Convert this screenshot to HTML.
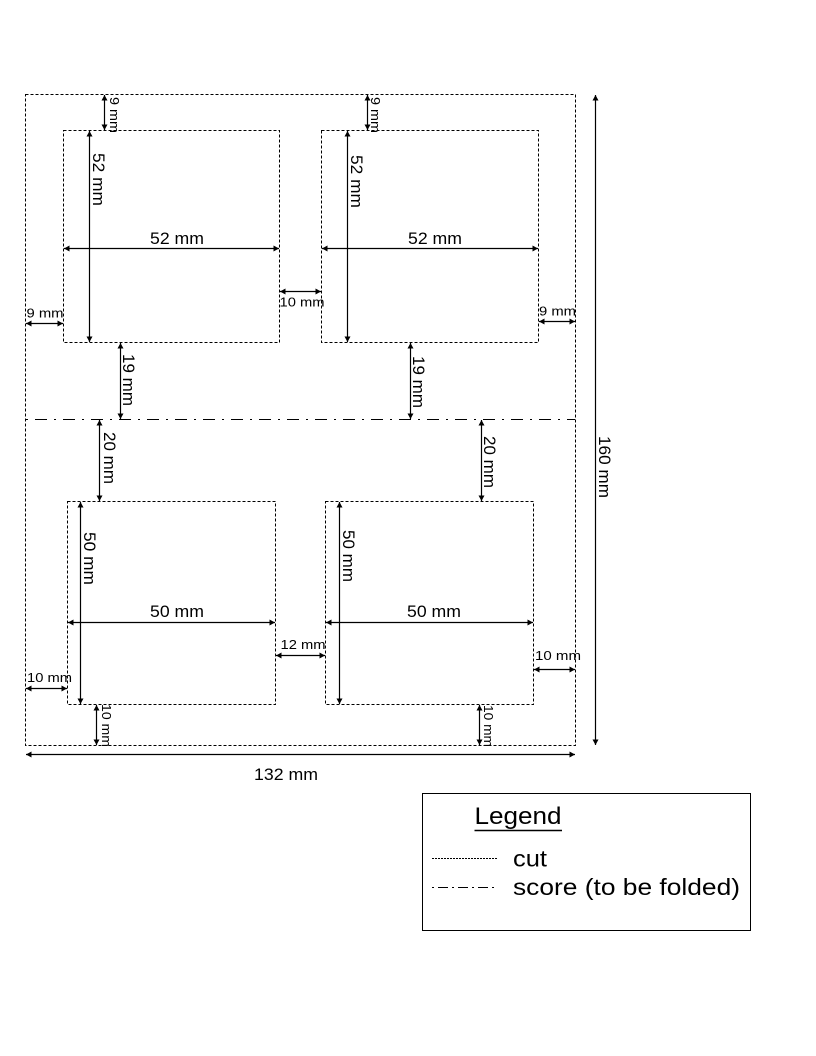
<!DOCTYPE html>
<html>
<head>
<meta charset="utf-8">
<style>
  html,body{margin:0;padding:0;background:#fff;}
  svg{display:block;}
  text{font-family:"Liberation Sans", Arial, sans-serif; fill:#000;}
</style>
</head>
<body>
<svg width="816" height="1056" viewBox="0 0 816 1056" xmlns="http://www.w3.org/2000/svg">
  <defs>
    <marker id="ah" markerWidth="8" markerHeight="8" refX="7" refY="4" orient="auto-start-reverse" markerUnits="userSpaceOnUse">
      <path d="M1.5,1 L7,4 L1.5,7 Z" fill="#000"/>
    </marker>
  </defs>

  <!-- cut outlines (dotted) -->
  <g fill="none" stroke="#000" stroke-width="1" stroke-dasharray="3,2">
    <rect x="25.5" y="94.5" width="550" height="651"/>
    <rect x="63.5" y="130.5" width="216" height="212"/>
    <rect x="321.5" y="130.5" width="217" height="212"/>
    <rect x="67.5" y="501.5" width="208" height="203"/>
    <rect x="325.5" y="501.5" width="208" height="203"/>
  </g>

  <!-- score line -->
  <line x1="26" y1="419.5" x2="575" y2="419.5" stroke="#000" stroke-width="1" stroke-dasharray="2,7,12,7"/>

  <!-- dimension lines -->
  <g stroke="#000" stroke-width="1.2" fill="none" marker-start="url(#ah)" marker-end="url(#ah)">
    <line x1="104.5" y1="95" x2="104.5" y2="130"/>
    <line x1="367.5" y1="95" x2="367.5" y2="130"/>
    <line x1="89.5" y1="131" x2="89.5" y2="342"/>
    <line x1="347.5" y1="131" x2="347.5" y2="342"/>
    <line x1="64" y1="248.5" x2="279" y2="248.5"/>
    <line x1="322" y1="248.5" x2="538" y2="248.5"/>
    <line x1="280" y1="291.5" x2="321" y2="291.5"/>
    <line x1="26" y1="323.5" x2="63" y2="323.5"/>
    <line x1="539" y1="321.5" x2="575" y2="321.5"/>
    <line x1="120.5" y1="343" x2="120.5" y2="419"/>
    <line x1="410.5" y1="343" x2="410.5" y2="419"/>
    <line x1="99.5" y1="420" x2="99.5" y2="501"/>
    <line x1="481.5" y1="420" x2="481.5" y2="501"/>
    <line x1="80.5" y1="502" x2="80.5" y2="704"/>
    <line x1="339.5" y1="502" x2="339.5" y2="704"/>
    <line x1="68" y1="622.5" x2="275" y2="622.5"/>
    <line x1="326" y1="622.5" x2="533" y2="622.5"/>
    <line x1="276" y1="655.5" x2="325" y2="655.5"/>
    <line x1="26" y1="688.5" x2="67" y2="688.5"/>
    <line x1="534" y1="669.5" x2="575" y2="669.5"/>
    <line x1="96.5" y1="705" x2="96.5" y2="745"/>
    <line x1="479.5" y1="705" x2="479.5" y2="745"/>
    <line x1="26" y1="754.5" x2="575" y2="754.5"/>
    <line x1="595.5" y1="95" x2="595.5" y2="745"/>
  </g>

  <!-- horizontal labels -->
  <g font-size="17">
    <text x="150" y="244" textLength="54" lengthAdjust="spacingAndGlyphs">52 mm</text>
    <text x="408" y="244" textLength="54" lengthAdjust="spacingAndGlyphs">52 mm</text>
    <text x="150" y="617" textLength="54" lengthAdjust="spacingAndGlyphs">50 mm</text>
    <text x="407" y="617" textLength="54" lengthAdjust="spacingAndGlyphs">50 mm</text>
    <text x="254" y="780" textLength="64" lengthAdjust="spacingAndGlyphs">132 mm</text>
  </g>
  <g font-size="13">
    <text x="279.5" y="306.5" textLength="45" lengthAdjust="spacingAndGlyphs">10 mm</text>
    <text x="26.5" y="317.5" textLength="37" lengthAdjust="spacingAndGlyphs">9 mm</text>
    <text x="539" y="315.5" textLength="37" lengthAdjust="spacingAndGlyphs">9 mm</text>
    <text x="280.5" y="649" textLength="45" lengthAdjust="spacingAndGlyphs">12 mm</text>
    <text x="27" y="682" textLength="45" lengthAdjust="spacingAndGlyphs">10 mm</text>
    <text x="535" y="660" textLength="46" lengthAdjust="spacingAndGlyphs">10 mm</text>
  </g>

  <!-- vertical (rotated) labels -->
  <g font-size="17">
    <text x="93" y="153" transform="rotate(90 93 153)" textLength="53" lengthAdjust="spacingAndGlyphs">52 mm</text>
    <text x="351" y="155" transform="rotate(90 351 155)" textLength="53" lengthAdjust="spacingAndGlyphs">52 mm</text>
    <text x="123" y="354" transform="rotate(90 123 354)" textLength="52" lengthAdjust="spacingAndGlyphs">19 mm</text>
    <text x="413" y="356" transform="rotate(90 413 356)" textLength="52" lengthAdjust="spacingAndGlyphs">19 mm</text>
    <text x="104" y="432" transform="rotate(90 104 432)" textLength="52" lengthAdjust="spacingAndGlyphs">20 mm</text>
    <text x="484" y="436" transform="rotate(90 484 436)" textLength="52" lengthAdjust="spacingAndGlyphs">20 mm</text>
    <text x="84" y="532" transform="rotate(90 84 532)" textLength="53" lengthAdjust="spacingAndGlyphs">50 mm</text>
    <text x="343" y="530" transform="rotate(90 343 530)" textLength="52" lengthAdjust="spacingAndGlyphs">50 mm</text>
    <text x="599" y="436" transform="rotate(90 599 436)" textLength="62" lengthAdjust="spacingAndGlyphs">160 mm</text>
  </g>
  <g font-size="13">
    <text x="110" y="97" transform="rotate(90 110 97)" textLength="36" lengthAdjust="spacingAndGlyphs">9 mm</text>
    <text x="371" y="97" transform="rotate(90 371 97)" textLength="36" lengthAdjust="spacingAndGlyphs">9 mm</text>
    <text x="102" y="704" transform="rotate(90 102 704)" textLength="43" lengthAdjust="spacingAndGlyphs">10 mm</text>
    <text x="484" y="705" transform="rotate(90 484 705)" textLength="42" lengthAdjust="spacingAndGlyphs">10 mm</text>
  </g>

  <!-- legend -->
  <rect x="422.5" y="793.5" width="328" height="137" fill="none" stroke="#000" stroke-width="1"/>
  <text x="474.5" y="824" font-size="24" textLength="87" lengthAdjust="spacingAndGlyphs">Legend</text>
  <line x1="474.5" y1="830.5" x2="562" y2="830.5" stroke="#000" stroke-width="1.6"/>
  <line x1="432" y1="858.5" x2="497" y2="858.5" stroke="#000" stroke-width="1" stroke-dasharray="2,1"/>
  <text x="513" y="866.5" font-size="23" textLength="34" lengthAdjust="spacingAndGlyphs">cut</text>
  <line x1="432" y1="887.5" x2="497" y2="887.5" stroke="#000" stroke-width="1" stroke-dasharray="2,4,10,4"/>
  <text x="513" y="895" font-size="23" textLength="227" lengthAdjust="spacingAndGlyphs">score (to be folded)</text>
</svg>
</body>
</html>
